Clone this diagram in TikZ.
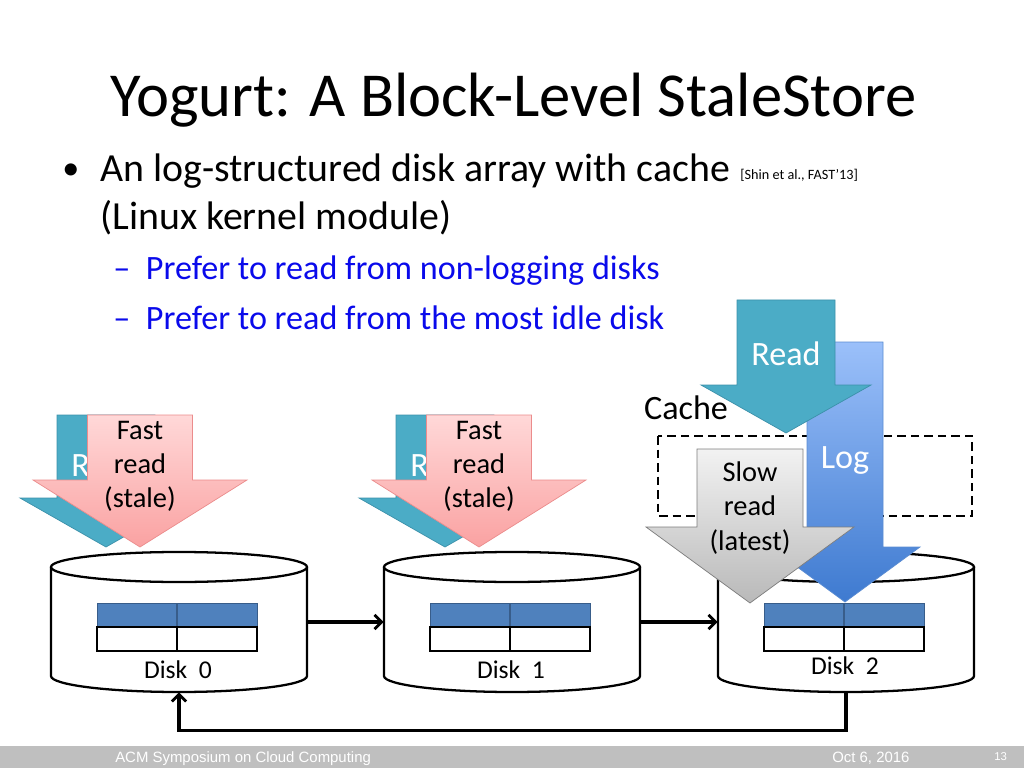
\documentclass[tikz,border=0pt]{standalone}
\usepackage{fontspec}
\setmainfont{Carlito}
\newfontfamily\footfont{Liberation Sans}
\usetikzlibrary{arrows.meta}

\definecolor{readteal}{RGB}{75,172,198}
\definecolor{readedge}{RGB}{60,145,170}
\definecolor{logtop}{RGB}{155,192,250}
\definecolor{logbot}{RGB}{62,122,208}
\definecolor{logedge}{RGB}{90,140,210}
\definecolor{pinktop}{RGB}{255,216,216}
\definecolor{pinkbot}{RGB}{250,162,162}
\definecolor{pinkedge}{RGB}{235,140,140}
\definecolor{graytop}{RGB}{242,242,242}
\definecolor{graybot}{RGB}{185,185,185}
\definecolor{grayedge}{RGB}{125,125,125}
\definecolor{blockblue}{RGB}{79,129,189}
\definecolor{blockedge}{RGB}{56,93,138}
\definecolor{footgray}{RGB}{191,191,191}
\definecolor{subblue}{RGB}{10,10,235}

% centre x, top, shaft half width, head y, head half width, tip y
\newcommand\downblock[6]{({#1-#3},#2) -- ({#1+#3},#2) -- ({#1+#3},#4) -- ({#1+#5},#4) -- (#1,#6) -- ({#1-#5},#4) -- ({#1-#3},#4) -- cycle}

\tikzset{
  txt/.style={inner sep=0pt, anchor=base west},
  arrtxt/.style={inner sep=0pt, align=center, font=\fontsize{20}{24}\selectfont},
  wtxt/.style={inner sep=0pt, text=white, font=\fontsize{24}{28}\selectfont},
  diskline/.style={line width=1.6pt, fill=white},
  disklabel/.style={inner sep=0pt, font=\fontsize{18}{20}\selectfont},
  diskbody/.style={inner sep=0pt, minimum width={256*0.703125pt}, minimum height={140*0.703125pt}},
  link/.style={line width=2.2pt, -{Straight Barb[length=5pt,width=10pt,line width=2pt]}},
  cachebox/.style={line width=1.6pt, dash pattern=on 6pt off 3.5pt},
}

\begin{document}
\begin{tikzpicture}[x=0.703125pt, y=-0.703125pt]
\useasboundingbox (0,0) rectangle (1024,768);

%text
\node[txt, font=\fontsize{44}{50}\selectfont] (title) at (110,117) {Yogurt: A Block-Level StaleStore};
\node[txt, font=\fontsize{24}{28}\selectfont] (dot) at (62,180) {•};
\node[txt, font=\fontsize{28}{32}\selectfont] (line1) at (100,182) {An log-structured disk array with cache};
\node[txt, font=\fontsize{10}{12}\selectfont] (cite) at (740,180) {[Shin et al., FAST’13]};
\node[txt, font=\fontsize{28}{32}\selectfont] (line2) at (100,230) {(Linux kernel module)};
\node[txt, text=subblue, font=\fontsize{24}{28}\selectfont] (sub1) at (113,280) {–\hspace{11pt}Prefer to read from non-logging disks};
\node[txt, text=subblue, font=\fontsize{24}{28}\selectfont] (sub2) at (113,329) {–\hspace{11pt}Prefer to read from the most idle disk};

%disks
\foreach \i/\x/\ly in {0/179/670,1/512/670,2/846/666} {
  \node[diskbody] (disk\i) at (\x,622) {};
  \draw[diskline] (\x-128,567) -- (\x-128,676) arc[start angle=180, end angle=0, x radius=128, y radius=16] -- (\x+128,567);
  \draw[diskline] (\x,567) ellipse[x radius=128, y radius=15];
  \fill[blockblue, draw=blockedge, line width=0.6pt] (\x-82,603) rectangle (\x+78,627);
  \draw[blockedge, line width=1pt] (\x-2,603) -- (\x-2,627);
  \draw[line width=1.5pt] (\x-82,627) rectangle (\x+78,651) (\x-2,627) -- (\x-2,651);
  \node[disklabel] (lbl\i) at (\x-1,\ly) {Disk\ \ \i};
}

%cache
\draw[cachebox] (658,436) rectangle (972,516);
\node[inner sep=0pt, font=\fontsize{24}{28}\selectfont] (cache) at (686,408) {Cache};

%arrows
\filldraw[readteal, draw=readedge, line width=0.5pt] \downblock{106}{415}{49}{498}{86}{547};
\node[wtxt] (read0) at (106,465) {Read};
\filldraw[readteal, draw=readedge, line width=0.5pt] \downblock{445}{415}{49}{498}{86}{547};
\node[wtxt] (read1) at (445,465) {Read};

\shade[top color=pinktop, bottom color=pinkbot, draw=pinkedge, line width=0.5pt] \downblock{140}{415}{52.5}{480}{107}{547};
\node[arrtxt] (fast0) at (140,466) {Fast\\read\\(stale)};
\shade[top color=pinktop, bottom color=pinkbot, draw=pinkedge, line width=0.5pt] \downblock{479}{415}{52.5}{480}{107}{547};
\node[arrtxt] (fast1) at (479,466) {Fast\\read\\(stale)};

\shade[top color=logtop, bottom color=logbot, draw=logedge, line width=0.5pt] \downblock{845}{342}{38}{547}{75}{602};
\node[wtxt] (log) at (845,460) {Log};

\filldraw[readteal, draw=readedge, line width=0.5pt] \downblock{786}{300}{49}{385}{85}{433};
\node[wtxt] (read2) at (786,354) {Read};

\shade[top color=graytop, bottom color=graybot, draw=grayedge, line width=0.5pt] \downblock{750}{449}{53}{527}{104}{603};
\node[arrtxt] (slow) at (750,508) {Slow\\read\\(latest)};

%connectors
\draw[link] (disk0.east) -- (disk1.west);
\draw[link] (disk1.east) -- (disk2.west);
\draw[link] (disk2.south) -- ++(0,38) -| (disk0.south);

%footer
\fill[footgray] (0,746) rectangle (1024,768);
\node[txt, text=white, font=\footfont\fontsize{10.5}{12}\selectfont] (conf) at (115,762) {ACM Symposium on Cloud Computing};
\node[txt, text=white, font=\footfont\fontsize{10.5}{12}\selectfont] (date) at (832,762) {Oct 6, 2016};
\node[txt, text=white, font=\footfont\fontsize{8}{10}\selectfont] (page) at (994,760) {13};
\end{tikzpicture}
\end{document}
